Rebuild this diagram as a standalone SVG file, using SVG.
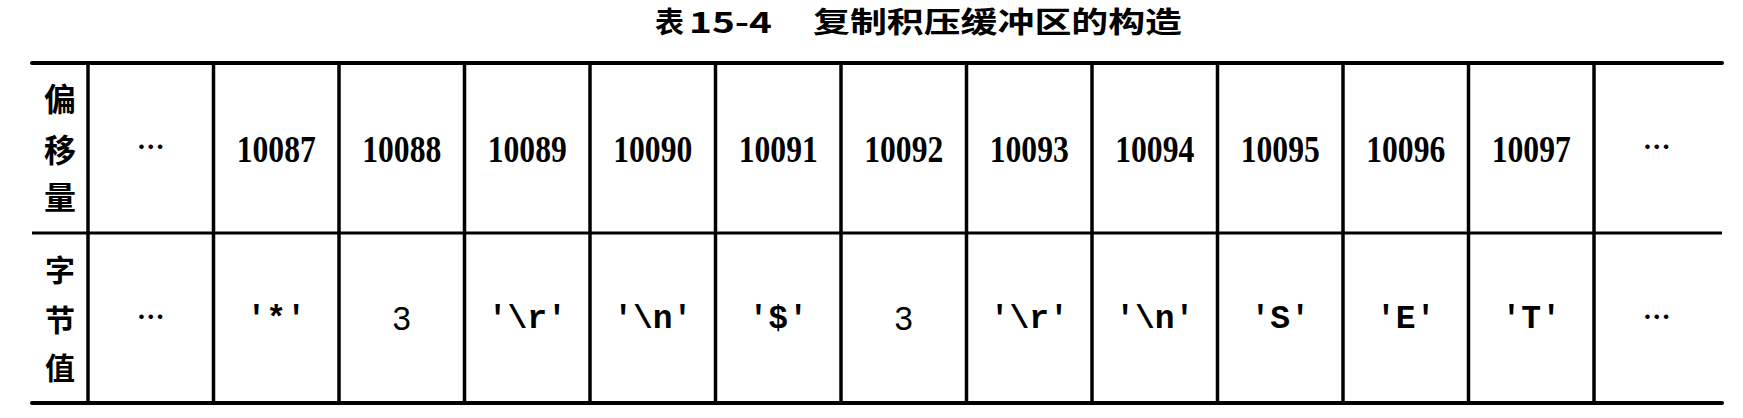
<svg xmlns="http://www.w3.org/2000/svg" width="1743" height="418" viewBox="0 0 1743 418">
<style>
.title{font-family:"Noto Sans CJK SC","Liberation Sans",sans-serif;font-weight:700;font-size:29px;fill:#000}
.lbl{font-family:"Noto Sans CJK SC",sans-serif;font-weight:700;font-size:32px;fill:#000;text-anchor:middle}
.lbl2{font-family:"Noto Sans CJK SC",sans-serif;font-weight:700;font-size:30px;fill:#000;text-anchor:middle}
.num{font-family:"Liberation Serif",serif;font-weight:700;font-size:37px;fill:#000;text-anchor:middle}
.mono{font-family:"Liberation Mono",monospace;font-weight:700;font-size:33px;fill:#000;text-anchor:middle}
.sans{font-family:"Liberation Sans",sans-serif;font-size:33px;fill:#000;text-anchor:middle}
.dots{font-family:"Noto Sans CJK SC",sans-serif;font-weight:700;font-size:28px;fill:#000;text-anchor:middle}
.rule{stroke:#000;stroke-width:4;stroke-linecap:round}
.mid{stroke:#000;stroke-width:3}
.v{stroke:#000;stroke-width:3.5}
</style>
<g id="title">
<text class="title" x="655" y="33">表</text>
<text class="title" x="689" y="33" textLength="83" lengthAdjust="spacingAndGlyphs">15-4</text>
<text class="title" x="813" y="33" textLength="369" lengthAdjust="spacingAndGlyphs">复制积压缓冲区的构造</text>
</g>
<g id="grid">
<line class="rule" x1="32" y1="63" x2="1722" y2="63"/>
<line class="mid" x1="32" y1="233" x2="1722" y2="233"/>
<line class="rule" x1="32" y1="403" x2="1722" y2="403"/>
<line class="v" x1="88" y1="63" x2="88" y2="403"/>
<line class="v" x1="213.5" y1="63" x2="213.5" y2="403"/>
<line class="v" x1="339" y1="63" x2="339" y2="403"/>
<line class="v" x1="464.5" y1="63" x2="464.5" y2="403"/>
<line class="v" x1="590" y1="63" x2="590" y2="403"/>
<line class="v" x1="715.5" y1="63" x2="715.5" y2="403"/>
<line class="v" x1="841" y1="63" x2="841" y2="403"/>
<line class="v" x1="966.5" y1="63" x2="966.5" y2="403"/>
<line class="v" x1="1092" y1="63" x2="1092" y2="403"/>
<line class="v" x1="1217.5" y1="63" x2="1217.5" y2="403"/>
<line class="v" x1="1343" y1="63" x2="1343" y2="403"/>
<line class="v" x1="1468.5" y1="63" x2="1468.5" y2="403"/>
<line class="v" x1="1594" y1="63" x2="1594" y2="403"/>
</g>
<g id="label-offset">
<text class="lbl" x="60" y="111">偏</text>
<text class="lbl" x="60" y="162">移</text>
<text class="lbl" x="60" y="209">量</text>
</g>
<g id="label-byte">
<text class="lbl2" x="60" y="281">字</text>
<text class="lbl2" x="60" y="331">节</text>
<text class="lbl2" x="60" y="379">值</text>
</g>
<g id="offsets">
<text class="dots" x="150.75" y="158">…</text>
<text class="num" x="276.25" y="162" textLength="79" lengthAdjust="spacingAndGlyphs">10087</text>
<text class="num" x="401.75" y="162" textLength="79" lengthAdjust="spacingAndGlyphs">10088</text>
<text class="num" x="527.25" y="162" textLength="79" lengthAdjust="spacingAndGlyphs">10089</text>
<text class="num" x="652.75" y="162" textLength="79" lengthAdjust="spacingAndGlyphs">10090</text>
<text class="num" x="778.25" y="162" textLength="79" lengthAdjust="spacingAndGlyphs">10091</text>
<text class="num" x="903.75" y="162" textLength="79" lengthAdjust="spacingAndGlyphs">10092</text>
<text class="num" x="1029.25" y="162" textLength="79" lengthAdjust="spacingAndGlyphs">10093</text>
<text class="num" x="1154.75" y="162" textLength="79" lengthAdjust="spacingAndGlyphs">10094</text>
<text class="num" x="1280.25" y="162" textLength="79" lengthAdjust="spacingAndGlyphs">10095</text>
<text class="num" x="1405.75" y="162" textLength="79" lengthAdjust="spacingAndGlyphs">10096</text>
<text class="num" x="1531.25" y="162" textLength="79" lengthAdjust="spacingAndGlyphs">10097</text>
<text class="dots" x="1656.75" y="158">…</text>
</g>
<g id="bytes">
<text class="dots" x="150.75" y="328">…</text>
<text class="mono" x="276.25" y="328">'*'</text>
<text class="sans" x="401.75" y="330">3</text>
<text class="mono" x="527.25" y="328">'\r'</text>
<text class="mono" x="652.75" y="328">'\n'</text>
<text class="mono" x="778.25" y="328">'$'</text>
<text class="sans" x="903.75" y="330">3</text>
<text class="mono" x="1029.25" y="328">'\r'</text>
<text class="mono" x="1154.75" y="328">'\n'</text>
<text class="mono" x="1280.25" y="328">'S'</text>
<text class="mono" x="1405.75" y="328">'E'</text>
<text class="mono" x="1531.25" y="328">'T'</text>
<text class="dots" x="1656.75" y="328">…</text>
</g>
</svg>
